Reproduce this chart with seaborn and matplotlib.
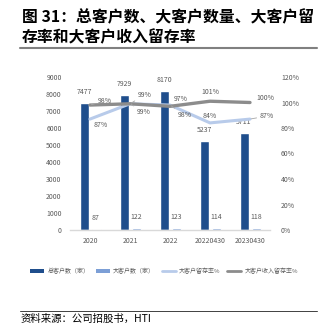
import numpy as np
import pandas as pd
import matplotlib
matplotlib.use("Agg")
import matplotlib.pyplot as plt
from matplotlib.patches import Patch
from matplotlib.lines import Line2D
import seaborn as sns

# Data
categories = ["2020", "2021", "2022", "20220430", "20230430"]
total_clients = [7477, 7929, 8170, 5237, 5711]
large_clients = [87, 122, 123, 114, 118]
large_retention = [87, 99, 98, 84, 87]
revenue_retention = [98, 99, 97, 101, 100]
left_ticks = [0, 1000, 2000, 3000, 4000, 5000, 6000, 7000, 8000, 9000]
right_ticks = [0, 20, 40, 60, 80, 100, 120]

series_names = ["总客户数（家）", "大客户数（家）", "大客户留存率%", "大客户收入留存率%"]
c_total = "#1f4e8c"
c_large = "#7c9fd6"
c_ret = "#b8cbea"
c_rev = "#8c8c8c"
c_text = "#595959"

sns.set_theme(style="white")
plt.rcParams["font.family"] = ["Noto Sans CJK SC", "DejaVu Sans"]

W, H = 322, 335
fig = plt.figure(figsize=(W / 100, H / 100), dpi=100)

def fx(px):
    return px / W

def fy(py):
    return 1 - py / H

# Plot area
left_px, right_px, top_px, bottom_px = 70, 270, 77, 230
ax = fig.add_axes([fx(left_px), fy(bottom_px), (right_px - left_px) / W, (bottom_px - top_px) / H])

df = pd.DataFrame({
    "cat": categories * 2,
    "value": total_clients + large_clients,
    "series": [series_names[0]] * len(categories) + [series_names[1]] * len(categories),
})
sns.barplot(data=df, x="cat", y="value", hue="series", palette=[c_total, c_large],
            width=0.6, gap=0.25, ax=ax, legend=False, saturation=1)

ax.set_xlim(-0.5, len(categories) - 0.5)
ax.set_ylim(0, 9000)
ax.set_yticks(left_ticks)
ax.set_yticklabels([str(t) for t in left_ticks])
ax.set_xlabel("")
ax.set_ylabel("")
for s in ["top", "right", "left"]:
    ax.spines[s].set_visible(False)
ax.spines["bottom"].set_color("#d9d9d9")
ax.spines["bottom"].set_linewidth(1.0)
ax.tick_params(axis="both", length=0, labelsize=5, labelcolor=c_text, pad=6)
ax.tick_params(axis="x", pad=5)

for cont in ax.containers:
    ax.bar_label(cont, fontsize=5, color=c_text, padding=5)

# Percent lines on a secondary axis
ax2 = ax.twinx()
xpos = np.arange(len(categories))
sns.lineplot(x=xpos, y=large_retention, ax=ax2, color=c_ret, linewidth=2.2, sort=False)
sns.lineplot(x=xpos, y=revenue_retention, ax=ax2, color=c_rev, linewidth=2.4, sort=False)
ax2.set_ylim(0, 120)
ax2.set_yticks(right_ticks)
ax2.set_yticklabels([f"{t}%" for t in right_ticks])
ax2.set_xlim(-0.5, len(categories) - 0.5)
for s in ["top", "right", "left", "bottom"]:
    ax2.spines[s].set_visible(False)
ax2.tick_params(axis="y", length=0, labelsize=5, labelcolor=c_text, pad=8)
ax2.grid(False)
ax.grid(False)

# Percent labels (offsets in pixels from each point)
lead = dict(arrowstyle="-", color="#a6a6a6", lw=0.6, shrinkA=0, shrinkB=1)
rev_offsets = [(15, 4), (15, 9), (11, 7), (0, 9), (15, 4)]
ret_offsets = [(11, -6), (14, -8), (15, -10), (0, 7), (17, 3)]
rev_lead = [True, True, False, False, False]
ret_lead = [False, True, True, False, True]
for i, v in enumerate(revenue_retention):
    ax2.annotate(f"{v}%", (xpos[i], v), xytext=rev_offsets[i], textcoords="offset pixels",
                 ha="center", va="center", fontsize=5, color=c_text,
                 arrowprops=lead if rev_lead[i] else None)
for i, v in enumerate(large_retention):
    ax2.annotate(f"{v}%", (xpos[i], v), xytext=ret_offsets[i], textcoords="offset pixels",
                 ha="center", va="center", fontsize=5, color=c_text,
                 arrowprops=lead if ret_lead[i] else None)

# Legend
handles = [
    Patch(facecolor=c_total, edgecolor="none"),
    Patch(facecolor=c_large, edgecolor="none"),
    Line2D([0], [0], color=c_ret, lw=2.0),
    Line2D([0], [0], color=c_rev, lw=2.0),
]
fig.legend(handles, series_names, loc="center", bbox_to_anchor=(fx(164), fy(271)), ncol=4,
           frameon=False, fontsize=4.3, handlelength=2.3, handleheight=0.7, columnspacing=1.1,
           handletextpad=0.6, labelcolor=c_text, borderpad=0, borderaxespad=0)

# Title and rules
fig.text(fx(22), fy(17), "图 31：总客户数、大客户数量、大客户留", fontsize=11.4, fontweight="bold",
         ha="left", va="center", color="#000000")
fig.text(fx(22), fy(37), "存率和大客户收入留存率", fontsize=11.4, fontweight="bold",
         ha="left", va="center", color="#000000")
fig.add_artist(Line2D([fx(20), fx(317)], [fy(48), fy(48)], color="#808080", lw=1.5))
fig.add_artist(Line2D([fx(20), fx(317)], [fy(311), fy(311)], color="#404040", lw=0.7))
fig.text(fx(21), fy(319), "资料来源：公司招股书，HTI", fontsize=7.5, ha="left", va="center",
         color="#000000")

fig.savefig("out.png", dpi=100)
